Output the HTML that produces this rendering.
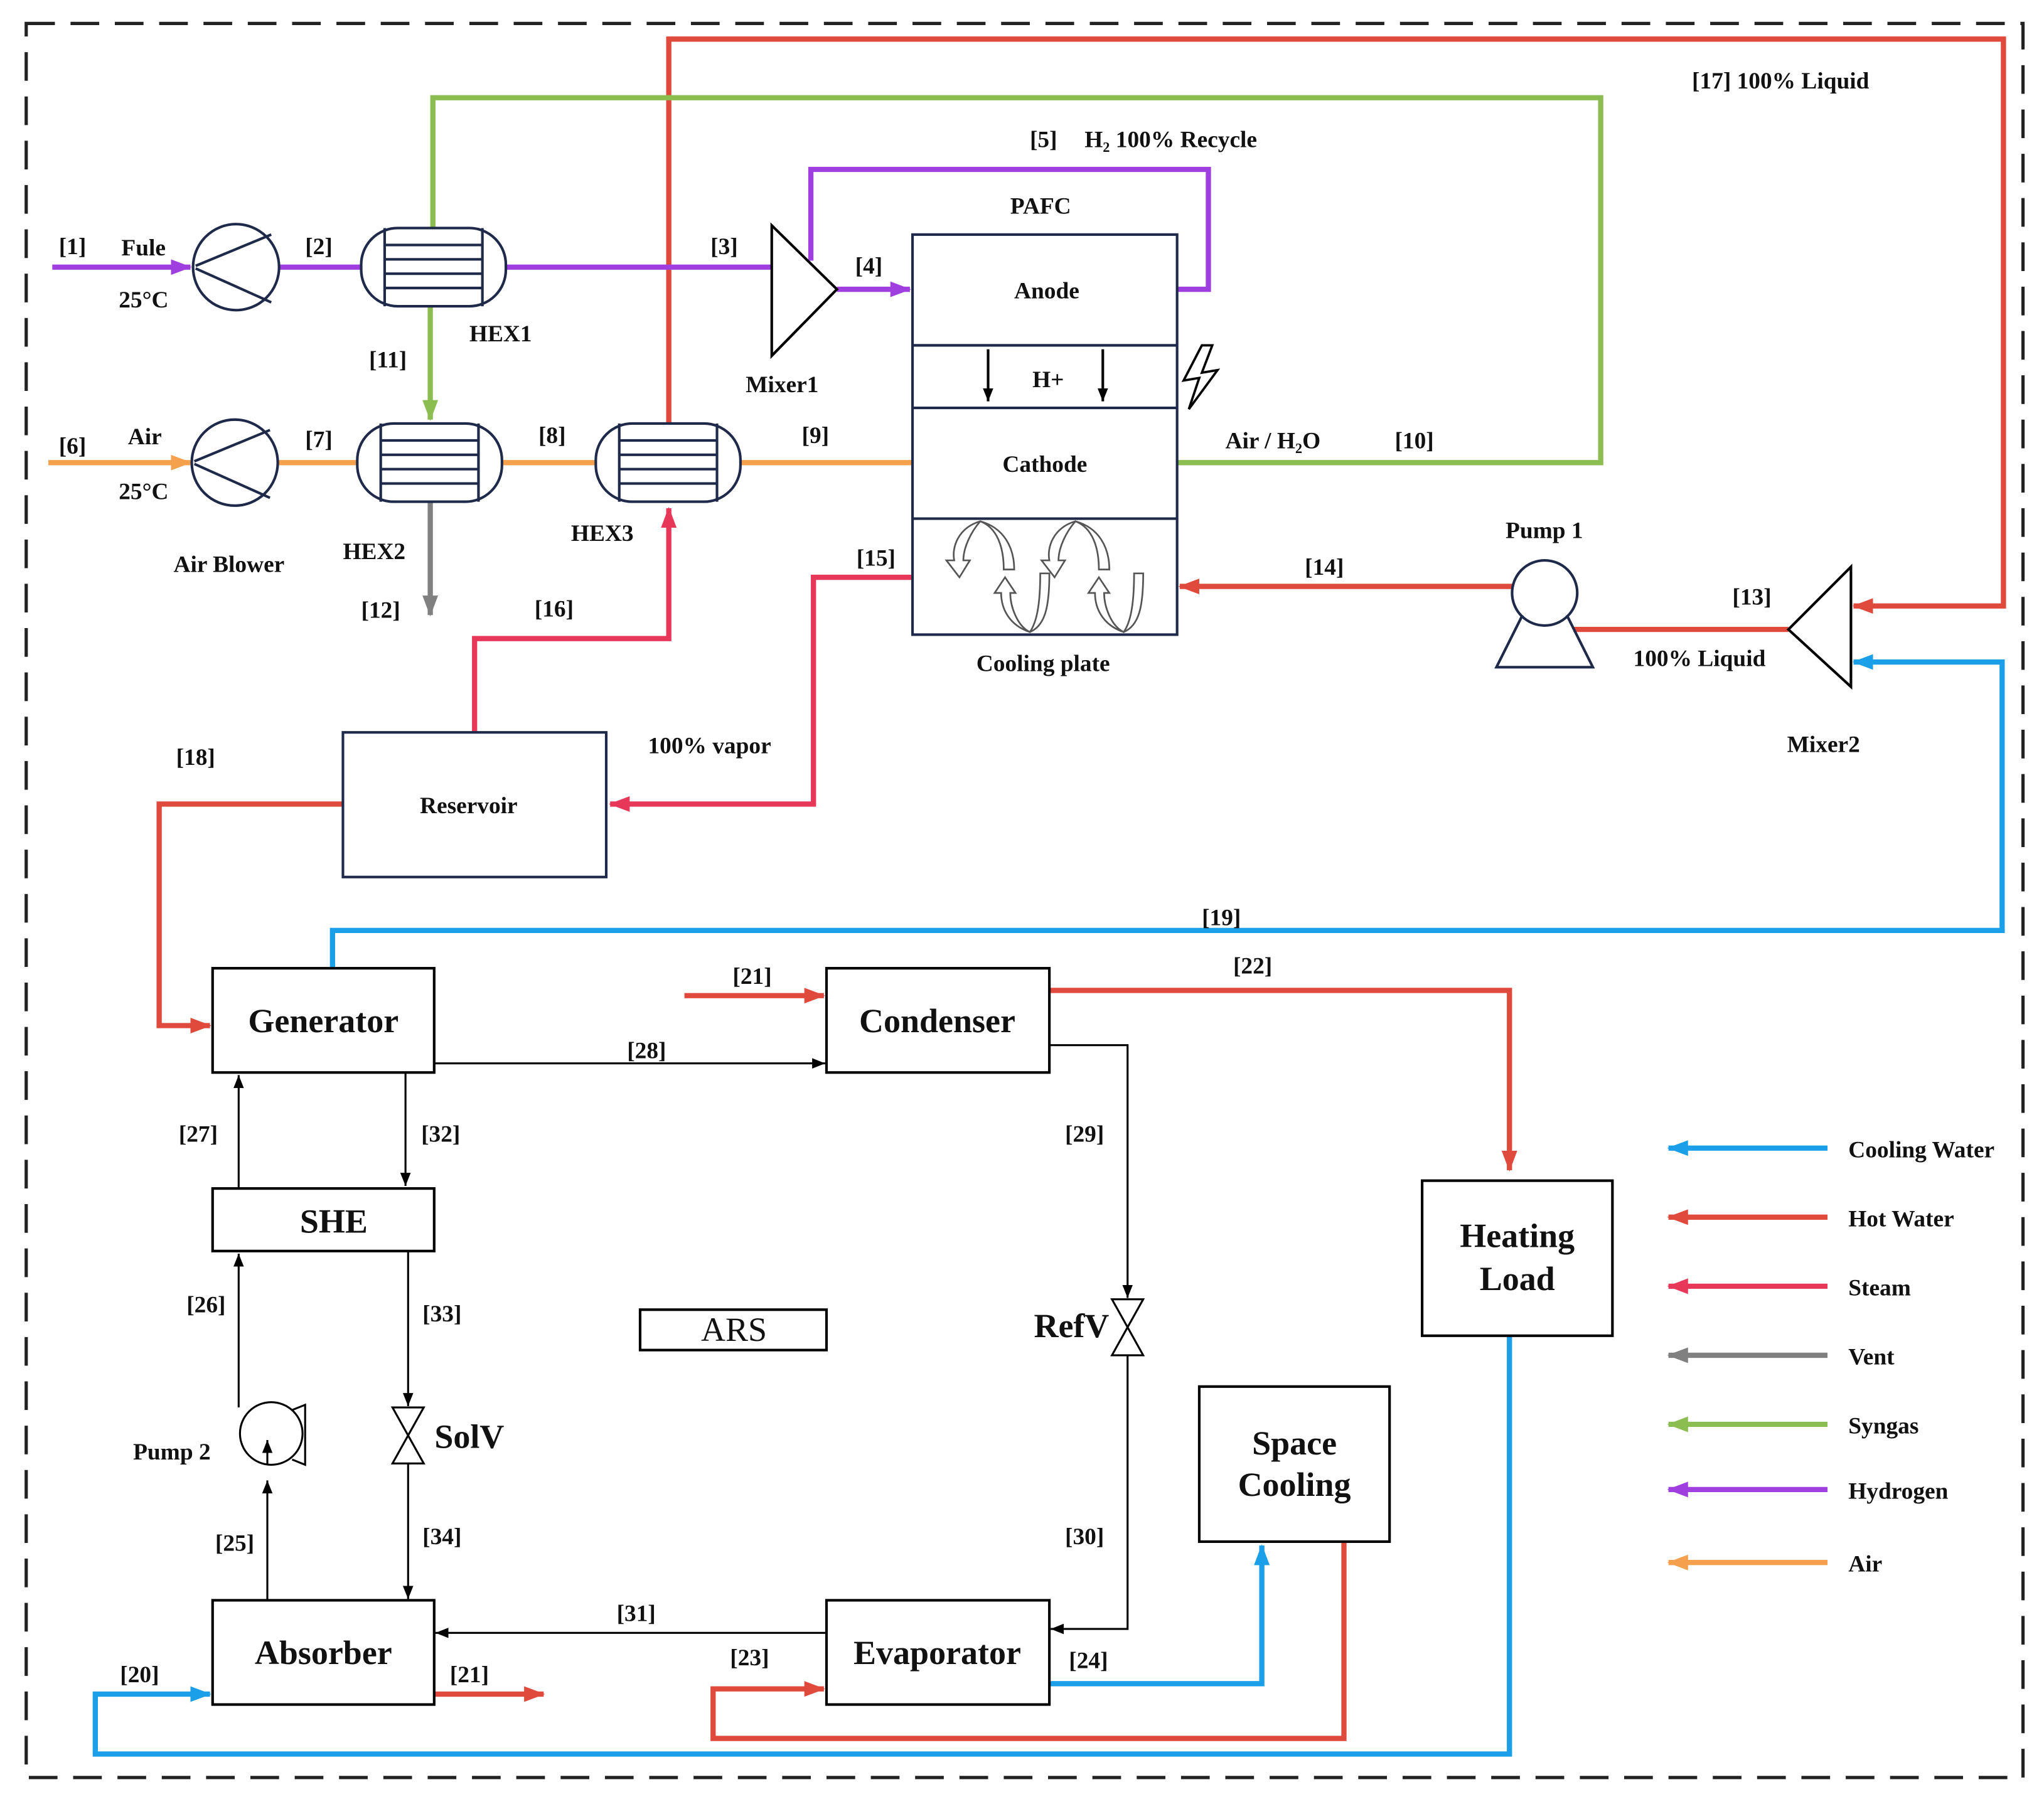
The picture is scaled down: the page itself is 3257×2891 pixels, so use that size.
<!DOCTYPE html>
<html><head><meta charset="utf-8"><style>
html,body{margin:0;padding:0;background:#fff}
svg{display:block}
text{font-family:"Liberation Serif","DejaVu Serif",serif;font-weight:bold;fill:#111}
</style></head><body>
<svg width="3257" height="2891" viewBox="0 0 1568 1392" xmlns="http://www.w3.org/2000/svg" font-family="Liberation Serif, DejaVu Serif, serif">
<defs>
<marker id="ar" markerWidth="16" markerHeight="12" refX="15" refY="6" orient="auto" markerUnits="userSpaceOnUse"><path d="M0,0 L16,6 L0,12z" fill="#e04a3c"/></marker>
<marker id="ap" markerWidth="16" markerHeight="12" refX="15" refY="6" orient="auto" markerUnits="userSpaceOnUse"><path d="M0,0 L16,6 L0,12z" fill="#a03fe0"/></marker>
<marker id="ag" markerWidth="16" markerHeight="12" refX="15" refY="6" orient="auto" markerUnits="userSpaceOnUse"><path d="M0,0 L16,6 L0,12z" fill="#8bbd50"/></marker>
<marker id="ao" markerWidth="16" markerHeight="12" refX="15" refY="6" orient="auto" markerUnits="userSpaceOnUse"><path d="M0,0 L16,6 L0,12z" fill="#f4a04c"/></marker>
<marker id="ab" markerWidth="16" markerHeight="12" refX="15" refY="6" orient="auto" markerUnits="userSpaceOnUse"><path d="M0,0 L16,6 L0,12z" fill="#1a9fe8"/></marker>
<marker id="as" markerWidth="16" markerHeight="12" refX="15" refY="6" orient="auto" markerUnits="userSpaceOnUse"><path d="M0,0 L16,6 L0,12z" fill="#e8385a"/></marker>
<marker id="ay" markerWidth="16" markerHeight="12" refX="15" refY="6" orient="auto" markerUnits="userSpaceOnUse"><path d="M0,0 L16,6 L0,12z" fill="#808080"/></marker>
<marker id="ak" markerWidth="10" markerHeight="8" refX="10" refY="4" orient="auto" markerUnits="userSpaceOnUse"><path d="M0,0 L10,4 L0,8z" fill="#000"/></marker>
</defs>
<rect x="20" y="18" width="1532" height="1346" fill="none" stroke="#222" stroke-width="2.5" stroke-dasharray="22,12"/>

<g fill="none" stroke-width="4">
<polyline points="513,325 513,30 1537,30 1537,465 1422,465" stroke="#e04a3c" marker-end="url(#ar)"/>
<polyline points="332,175 332,75 1228,75 1228,355 903,355" stroke="#8bbd50"/>
<polyline points="330,235 330,322" stroke="#8bbd50" marker-end="url(#ag)"/>
<polyline points="622,200 622,130 927,130 927,222 903,222" stroke="#a03fe0"/>
<polyline points="40,205 146,205" stroke="#a03fe0" marker-end="url(#ap)"/>
<polyline points="214,205 277,205" stroke="#a03fe0"/>
<polyline points="388,205 592,205" stroke="#a03fe0"/>
<polyline points="642,222 698,222" stroke="#a03fe0" marker-end="url(#ap)"/>
<polyline points="37,355 146,355" stroke="#f4a04c" marker-end="url(#ao)"/>
<polyline points="213,355 274,355" stroke="#f4a04c"/>
<polyline points="385,355 457,355" stroke="#f4a04c"/>
<polyline points="568,355 700,355" stroke="#f4a04c"/>
<polyline points="330,385 330,472" stroke="#808080" marker-end="url(#ay)"/>
<polyline points="700,443 624,443 624,617 468,617" stroke="#e8385a" marker-end="url(#as)"/>
<polyline points="364,562 364,490 513,490 513,390" stroke="#e8385a" marker-end="url(#as)"/>
<polyline points="1160,450 905,450" stroke="#e04a3c" marker-end="url(#ar)"/>
<polyline points="1207,483 1372,483" stroke="#e04a3c"/>
<polyline points="255,743 255,714 1536,714 1536,508 1422,508" stroke="#1a9fe8" marker-end="url(#ab)"/>
<polyline points="263,617 122,617 122,787 161,787" stroke="#e04a3c" marker-end="url(#ar)"/>
<polyline points="525,764 632,764" stroke="#e04a3c" marker-end="url(#ar)"/>
<polyline points="805,760 1158,760 1158,898" stroke="#e04a3c" marker-end="url(#ar)"/>
<polyline points="333,1300 417,1300" stroke="#e04a3c" marker-end="url(#ar)"/>
<polyline points="1031,1183 1031,1334 547,1334 547,1296 632,1296" stroke="#e04a3c" marker-end="url(#ar)"/>
<polyline points="805,1292 968,1292 968,1186" stroke="#1a9fe8" marker-end="url(#ab)"/>
<polyline points="1158,1025 1158,1346 73,1346 73,1300 161,1300" stroke="#1a9fe8" marker-end="url(#ab)"/>
<polyline points="1402,881 1280,881" stroke="#1a9fe8" marker-end="url(#ab)"/>
<polyline points="1402,934 1280,934" stroke="#e04a3c" marker-end="url(#ar)"/>
<polyline points="1402,987 1280,987" stroke="#e8385a" marker-end="url(#as)"/>
<polyline points="1402,1040 1280,1040" stroke="#808080" marker-end="url(#ay)"/>
<polyline points="1402,1093 1280,1093" stroke="#8bbd50" marker-end="url(#ag)"/>
<polyline points="1402,1143 1280,1143" stroke="#a03fe0" marker-end="url(#ap)"/>
<polyline points="1402,1199 1280,1199" stroke="#f4a04c" marker-end="url(#ao)"/>
</g>

<g fill="#fff" stroke="#1f2a4a" stroke-width="2">
<circle cx="181" cy="205" r="33"/>
<line x1="150" y1="204" x2="208" y2="180"/><line x1="150" y1="206" x2="208" y2="232"/>
<circle cx="180" cy="355" r="33"/>
<line x1="149" y1="354" x2="207" y2="330"/><line x1="149" y1="356" x2="207" y2="382"/>
</g>
<g stroke="#1f2a4a" stroke-width="2" fill="#fff">
<rect x="277" y="175" width="111" height="60" rx="28"/>
<rect x="274" y="325" width="111" height="60" rx="28"/>
<rect x="457" y="325" width="111" height="60" rx="28"/>
</g>
<g stroke="#1f2a4a" stroke-width="2">
<line x1="295" y1="175" x2="295" y2="235"/><line x1="370" y1="175" x2="370" y2="235"/>
<line x1="295" y1="188" x2="370" y2="188"/><line x1="295" y1="199" x2="370" y2="199"/><line x1="295" y1="210" x2="370" y2="210"/><line x1="295" y1="221" x2="370" y2="221"/>
<line x1="292" y1="325" x2="292" y2="385"/><line x1="367" y1="325" x2="367" y2="385"/>
<line x1="292" y1="338" x2="367" y2="338"/><line x1="292" y1="349" x2="367" y2="349"/><line x1="292" y1="360" x2="367" y2="360"/><line x1="292" y1="371" x2="367" y2="371"/>
<line x1="475" y1="325" x2="475" y2="385"/><line x1="550" y1="325" x2="550" y2="385"/>
<line x1="475" y1="338" x2="550" y2="338"/><line x1="475" y1="349" x2="550" y2="349"/><line x1="475" y1="360" x2="550" y2="360"/><line x1="475" y1="371" x2="550" y2="371"/>
</g>
<polygon points="592,173 592,273 642,222" fill="#fff" stroke="#000" stroke-width="2"/>
<polygon points="1420,435 1420,527 1372,483" fill="#fff" stroke="#000" stroke-width="2"/>
<g stroke="#1f2a4a" stroke-width="2" fill="none">
<rect x="700" y="180" width="203" height="307" fill="#fff"/>
<line x1="700" y1="265" x2="903" y2="265"/><line x1="700" y1="313" x2="903" y2="313"/><line x1="700" y1="398" x2="903" y2="398"/>
</g>
<g stroke="#555" stroke-width="1.3" fill="#fff">
<path d="M752,400 C735,405 730,420 732,430 L726,430 L736,443 L744,430 L739,430 C739,420 745,408 752,400 C765,405 770,420 770,437 L778,437 C778,420 770,405 752,400z"/>
<path d="M825,400 C808,405 803,420 805,430 L799,430 L809,443 L817,430 L812,430 C812,420 818,408 825,400 C838,405 843,420 843,437 L851,437 C851,420 843,405 825,400z"/>
<path d="M790,485 C780,480 775,465 775,455 L779,455 L771,443 L763,455 L768,455 C768,468 775,480 790,485 C802,480 805,465 805,440 L798,440 C798,465 795,478 790,485z"/>
<path d="M862,485 C852,480 847,465 847,455 L851,455 L843,443 L835,455 L840,455 C840,468 847,480 862,485 C874,480 877,465 877,440 L870,440 C870,465 867,478 862,485z"/>
</g>
<g stroke="#000" stroke-width="2"><line x1="758" y1="268" x2="758" y2="308" marker-end="url(#ak)"/><line x1="846" y1="268" x2="846" y2="308" marker-end="url(#ak)"/></g>
<path d="M922,265 L908,292 L920,290 L912,314 L934,284 L922,286 L930,265z" fill="none" stroke="#000" stroke-width="1.8"/>
<circle cx="1185" cy="455" r="25" fill="#fff" stroke="#1f2a4a" stroke-width="2"/>
<path d="M1168,472 L1148,512 L1222,512 L1202,472" fill="none" stroke="#1f2a4a" stroke-width="2"/>
<rect x="263" y="562" width="202" height="111" fill="#fff" stroke="#1f2a4a" stroke-width="2"/>

<g fill="#fff" stroke="#000" stroke-width="2">
<rect x="163" y="743" width="170" height="80"/>
<rect x="634" y="743" width="171" height="80"/>
<rect x="163" y="912" width="170" height="48"/>
<rect x="163" y="1228" width="170" height="80"/>
<rect x="634" y="1228" width="171" height="80"/>
<rect x="1091" y="906" width="146" height="119"/>
<rect x="920" y="1064" width="146" height="119"/>
<rect x="491" y="1005" width="143" height="31"/>
</g>
<g fill="none" stroke="#000" stroke-width="1.5">
<line x1="333" y1="816" x2="633" y2="816" marker-end="url(#ak)"/>
<polyline points="805,802 865,802 865,996" marker-end="url(#ak)"/>
<polyline points="865,1040 865,1250 806,1250" marker-end="url(#ak)"/>
<line x1="634" y1="1253" x2="334" y2="1253" marker-end="url(#ak)"/>
<line x1="311" y1="823" x2="311" y2="910" marker-end="url(#ak)"/>
<line x1="183" y1="912" x2="183" y2="825" marker-end="url(#ak)"/>
<line x1="313" y1="960" x2="313" y2="1079" marker-end="url(#ak)"/>
<line x1="313" y1="1123" x2="313" y2="1227" marker-end="url(#ak)"/>
<line x1="183" y1="1080" x2="183" y2="962" marker-end="url(#ak)"/>
<line x1="205" y1="1228" x2="205" y2="1136" marker-end="url(#ak)"/>
<polygon points="853,997 877,997 853,1040 877,1040" fill="#fff"/>
<polygon points="301,1080 325,1080 301,1123 325,1123" fill="#fff"/>
<circle cx="208" cy="1100" r="24" fill="#fff"/>
<polyline points="224,1082 234,1078 234,1124 224,1120"/>
<line x1="205" y1="1124" x2="205" y2="1105" marker-end="url(#ak)"/>
</g>

<g font-size="18">
<text x="45" y="195">[1]</text><text x="93" y="196">Fule</text><text x="91" y="236">25°C</text>
<text x="234" y="195">[2]</text><text x="545" y="195">[3]</text><text x="656" y="210">[4]</text>
<text x="790" y="113">[5]</text><text x="832" y="113">H₂ 100% Recycle</text>
<text x="775" y="164">PAFC</text><text x="778" y="229">Anode</text><text x="792" y="297">H+</text><text x="769" y="362">Cathode</text>
<text x="360" y="262">HEX1</text><text x="283" y="282">[11]</text><text x="572" y="301">Mixer1</text>
<text x="45" y="348">[6]</text><text x="98" y="341">Air</text><text x="91" y="383">25°C</text>
<text x="234" y="343">[7]</text><text x="413" y="340">[8]</text><text x="615" y="340">[9]</text>
<text x="133" y="439">Air Blower</text><text x="263" y="429">HEX2</text><text x="438" y="415">HEX3</text>
<text x="277" y="474">[12]</text><text x="410" y="473">[16]</text><text x="657" y="434">[15]</text>
<text x="940" y="344">Air / H₂O</text><text x="1070" y="344">[10]</text><text x="1298" y="68">[17] 100% Liquid</text>
<text x="1155" y="413">Pump 1</text><text x="1001" y="441">[14]</text><text x="1329" y="464">[13]</text>
<text x="1253" y="511">100% Liquid</text><text x="1371" y="577">Mixer2</text>
<text x="749" y="515">Cooling plate</text><text x="497" y="578">100%  vapor</text>
<text x="135" y="587">[18]</text><text x="322" y="624">Reservoir</text>
<text x="922" y="710">[19]</text><text x="562" y="755">[21]</text><text x="946" y="747">[22]</text>
<text x="481" y="812">[28]</text><text x="137" y="876">[27]</text><text x="323" y="876">[32]</text><text x="817" y="876">[29]</text>
<text x="143" y="1007">[26]</text><text x="324" y="1014">[33]</text>
<text x="102" y="1120">Pump 2</text><text x="165" y="1190">[25]</text><text x="324" y="1185">[34]</text><text x="817" y="1185">[30]</text>
<text x="473" y="1244">[31]</text><text x="92" y="1291">[20]</text><text x="345" y="1291">[21]</text><text x="560" y="1278">[23]</text><text x="820" y="1280">[24]</text>
<text x="1418" y="888">Cooling Water</text><text x="1418" y="941">Hot Water</text><text x="1418" y="994">Steam</text>
<text x="1418" y="1047">Vent</text><text x="1418" y="1100">Syngas</text><text x="1418" y="1150">Hydrogen</text><text x="1418" y="1206">Air</text>
</g>
<g font-size="26" text-anchor="middle">
<text x="248" y="792">Generator</text><text x="719" y="792">Condenser</text>
<text x="256" y="946">SHE</text><text x="248" y="1277">Absorber</text><text x="719" y="1277">Evaporator</text>
<text x="1164" y="957">Heating</text><text x="1164" y="990">Load</text>
<text x="993" y="1116">Space</text><text x="993" y="1148">Cooling</text>
<text x="822" y="1026">RefV</text><text x="360" y="1111">SolV</text>
<text x="563" y="1029" style="font-weight:normal">ARS</text>
</g>
</svg>
</body></html>
